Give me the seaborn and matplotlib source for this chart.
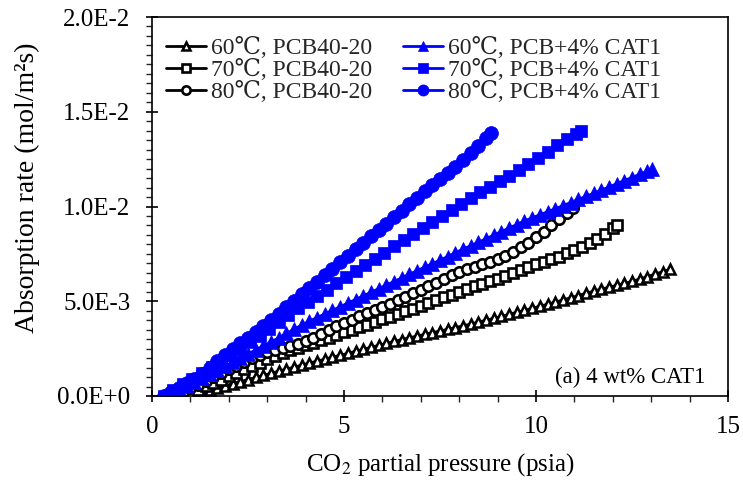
import matplotlib
matplotlib.use("Agg")
import numpy as np
import pandas as pd
import seaborn as sns
import matplotlib.pyplot as plt
from matplotlib.ticker import FixedLocator, MultipleLocator

# ---------------- data (y in 1E-3 mol/m2s) ----------------
x_b60 = [0.9, 1.1, 1.3, 1.5, 1.7, 1.9, 2.1, 2.3, 2.5, 2.7, 2.9, 3.1, 3.3, 3.5, 3.7, 3.9,
         4.1, 4.3, 4.5, 4.7, 4.9, 5.1, 5.3, 5.5, 5.7, 5.9, 6.1, 6.3, 6.5, 6.7, 6.9, 7.1,
         7.3, 7.5, 7.7, 7.9, 8.1, 8.3, 8.5, 8.7, 8.9, 9.1, 9.3, 9.5, 9.7, 9.9, 10.1, 10.3,
         10.5, 10.7, 10.9, 11.1, 11.3, 11.5, 11.7, 11.9, 12.1, 12.3, 12.5, 12.7, 12.9, 13.1,
         13.3, 13.5]
y_b60 = [0.00, 0.08, 0.18, 0.30, 0.42, 0.54, 0.65, 0.76, 0.87, 0.98, 1.09, 1.20, 1.31, 1.42,
         1.52, 1.63, 1.74, 1.84, 1.94, 2.05, 2.15, 2.25, 2.36, 2.46, 2.57, 2.67, 2.78, 2.88,
         2.98, 3.07, 3.16, 3.25, 3.34, 3.43, 3.52, 3.61, 3.70, 3.80, 3.90, 4.00, 4.10, 4.20,
         4.31, 4.42, 4.52, 4.63, 4.74, 4.84, 4.95, 5.07, 5.18, 5.30, 5.42, 5.53, 5.64, 5.74,
         5.84, 5.94, 6.05, 6.17, 6.30, 6.43, 6.56, 6.69]

x_b70 = [0.8, 1.0, 1.2, 1.4, 1.6, 1.8, 2.0, 2.2, 2.4, 2.6, 2.8, 3.0, 3.2, 3.4, 3.6, 3.8,
         4.0, 4.2, 4.4, 4.6, 4.8, 5.0, 5.2, 5.4, 5.6, 5.8, 6.0, 6.2, 6.4, 6.6, 6.8, 7.0,
         7.2, 7.4, 7.6, 7.8, 8.0, 8.2, 8.4, 8.6, 8.8, 9.0, 9.2, 9.4, 9.6, 9.8, 10.0, 10.2,
         10.4, 10.6, 10.8, 11.0, 11.2, 11.4, 11.6, 11.8, 12.0, 12.1]
y_b70 = [0.00, 0.17, 0.34, 0.51, 0.69, 0.87, 1.05, 1.23, 1.41, 1.59, 1.76, 1.93, 2.10, 2.27,
         2.42, 2.55, 2.68, 2.82, 2.95, 3.08, 3.22, 3.36, 3.50, 3.64, 3.77, 3.91, 4.05, 4.19,
         4.33, 4.47, 4.61, 4.75, 4.90, 5.05, 5.20, 5.35, 5.50, 5.64, 5.78, 5.92, 6.06, 6.20,
         6.35, 6.51, 6.67, 6.83, 6.96, 7.09, 7.22, 7.35, 7.52, 7.70, 7.88, 8.06, 8.28, 8.55,
         8.85, 9.02]

x_b80 = [0.6, 0.8, 1.0, 1.2, 1.4, 1.6, 1.8, 2.0, 2.2, 2.4, 2.6, 2.8, 3.0, 3.2, 3.4, 3.6,
         3.8, 4.0, 4.2, 4.4, 4.6, 4.8, 5.0, 5.2, 5.4, 5.6, 5.8, 6.0, 6.2, 6.4, 6.6, 6.8,
         7.0, 7.2, 7.4, 7.6, 7.8, 8.0, 8.2, 8.4, 8.6, 8.8, 9.0, 9.2, 9.4, 9.6, 9.8, 10.0,
         10.2, 10.4, 10.6, 10.8, 10.96]
y_b80 = [0.05, 0.22, 0.40, 0.60, 0.80, 1.00, 1.20, 1.40, 1.60, 1.80, 1.98, 2.14, 2.30, 2.43,
         2.55, 2.66, 2.77, 2.90, 3.06, 3.28, 3.50, 3.68, 3.86, 4.03, 4.20, 4.37, 4.53, 4.70,
         4.88, 5.06, 5.24, 5.42, 5.60, 5.79, 5.98, 6.17, 6.36, 6.55, 6.68, 6.81, 6.95, 7.09,
         7.22, 7.40, 7.60, 7.85, 8.10, 8.38, 8.66, 9.00, 9.33, 9.68, 9.94]

x_c60 = [0.3, 0.5, 0.7, 0.9, 1.1, 1.3, 1.5, 1.7, 1.9, 2.1, 2.3, 2.5, 2.7, 2.9, 3.1, 3.3,
         3.5, 3.7, 3.9, 4.1, 4.3, 4.5, 4.7, 4.9, 5.1, 5.3, 5.5, 5.7, 5.9, 6.1, 6.3, 6.5,
         6.7, 6.9, 7.1, 7.3, 7.5, 7.7, 7.9, 8.1, 8.3, 8.5, 8.7, 8.9, 9.1, 9.3, 9.5, 9.7,
         9.9, 10.1, 10.3, 10.5, 10.7, 10.9, 11.1, 11.3, 11.5, 11.7, 11.9, 12.1, 12.3, 12.5,
         12.7, 12.9, 13.02]
y_c60 = [0.00, 0.18, 0.36, 0.55, 0.75, 0.96, 1.17, 1.38, 1.59, 1.80, 2.01, 2.22, 2.43, 2.64,
         2.85, 3.07, 3.30, 3.52, 3.75, 3.95, 4.14, 4.33, 4.52, 4.71, 4.90, 5.09, 5.28, 5.47,
         5.66, 5.85, 6.04, 6.23, 6.42, 6.61, 6.80, 6.98, 7.17, 7.36, 7.56, 7.75, 7.93, 8.11,
         8.30, 8.49, 8.68, 8.86, 9.05, 9.24, 9.40, 9.56, 9.72, 9.88, 10.04, 10.21, 10.37,
         10.53, 10.70, 10.86, 11.03, 11.20, 11.37, 11.53, 11.70, 11.86, 11.96]

x_c70 = [0.30, 0.55, 0.80, 1.05, 1.30, 1.55, 1.80, 2.05, 2.30, 2.55, 2.80, 3.05, 3.30, 3.55,
         3.80, 4.05, 4.30, 4.55, 4.80, 5.05, 5.30, 5.55, 5.80, 6.05, 6.30, 6.55, 6.80, 7.05,
         7.30, 7.55, 7.80, 8.05, 8.30, 8.55, 8.80, 9.05, 9.30, 9.55, 9.80, 10.05, 10.30,
         10.55, 10.80, 11.05, 11.17]
y_c70 = [0.00, 0.30, 0.61, 0.91, 1.22, 1.53, 1.85, 2.17, 2.50, 2.83, 3.17, 3.52, 3.88, 4.25,
         4.62, 4.98, 5.30, 5.62, 5.95, 6.27, 6.59, 6.92, 7.24, 7.56, 7.89, 8.21, 8.54, 8.86,
         9.18, 9.50, 9.82, 10.14, 10.44, 10.74, 11.03, 11.32, 11.62, 11.93, 12.24, 12.57,
         12.90, 13.24, 13.55, 13.84, 13.98]

x_c80 = [0.3, 0.5, 0.7, 0.9, 1.1, 1.3, 1.5, 1.7, 1.9, 2.1, 2.3, 2.5, 2.7, 2.9, 3.1, 3.3,
         3.5, 3.7, 3.9, 4.1, 4.3, 4.5, 4.7, 4.9, 5.1, 5.3, 5.5, 5.7, 5.9, 6.1, 6.3, 6.5,
         6.7, 6.9, 7.1, 7.3, 7.5, 7.7, 7.9, 8.1, 8.3, 8.5, 8.7, 8.82]
y_c80 = [0.00, 0.20, 0.42, 0.66, 0.90, 1.17, 1.50, 1.84, 2.18, 2.50, 2.78, 3.06, 3.38, 3.70,
         4.02, 4.35, 4.68, 5.02, 5.36, 5.70, 6.04, 6.38, 6.72, 7.06, 7.40, 7.74, 8.08, 8.42,
         8.76, 9.10, 9.44, 9.78, 10.12, 10.46, 10.80, 11.12, 11.44, 11.76, 12.10, 12.44,
         12.82, 13.20, 13.60, 13.90]

labels = ["60\u2103, PCB40-20", "70\u2103, PCB40-20", "80\u2103, PCB40-20",
          "60\u2103, PCB+4% CAT1", "70\u2103, PCB+4% CAT1", "80\u2103, PCB+4% CAT1"]
y_ticks = [0.0, 0.005, 0.010, 0.015, 0.020]
y_ticklabels = ["0.0E+0", "5.0E-3", "1.0E-2", "1.5E-2", "2.0E-2"]
x_ticks = [0, 5, 10, 15]

# ---------------- style ----------------
sns.set_theme(style="white")
plt.rcParams["font.family"] = ["Liberation Serif", "DejaVu Serif"]
plt.rcParams["mathtext.fontset"] = "stix"

fig = plt.figure(figsize=(7.43, 4.84), dpi=100)
ax = fig.add_axes([152 / 743, 1 - 396 / 484, 576 / 743, 379 / 484])

BLUE = "#0000ff"
series = [
    (x_b60, y_b60, labels[0], "black", "^", 6.5, "white", 1.8),
    (x_b70, y_b70, labels[1], "black", "s", 7.0, "white", 1.9),
    (x_b80, y_b80, labels[2], "black", "o", 7.5, "white", 1.9),
    (x_c60, y_c60, labels[3], BLUE, "^", 9.5, BLUE, 0.5),
    (x_c70, y_c70, labels[4], BLUE, "s", 9.0, BLUE, 0.5),
    (x_c80, y_c80, labels[5], BLUE, "o", 10.0, BLUE, 0.5),
]
for xs, ys, lab, col, mk, ms, mfc, mew in series:
    df = pd.DataFrame({"x": xs, "y": np.array(ys) * 1e-3})
    sns.lineplot(data=df, x="x", y="y", ax=ax, color=col, marker=mk, markersize=ms,
                 markerfacecolor=mfc, markeredgecolor=col, markeredgewidth=mew,
                 linewidth=2.0, label=lab, sort=False, estimator=None)

ax.set_xlim(0, 15)
ax.set_ylim(0, 0.02)
ax.xaxis.set_major_locator(FixedLocator(x_ticks))
ax.xaxis.set_minor_locator(MultipleLocator(1))
ax.yaxis.set_major_locator(FixedLocator(y_ticks))
ax.set_yticklabels(y_ticklabels)
ax.yaxis.set_minor_locator(MultipleLocator(0.0005))
ax.tick_params(which="major", direction="inout", length=9, width=1.2, labelsize=18,
               colors="black", bottom=True, left=True)
ax.tick_params(axis="y", which="major", pad=11)
ax.tick_params(axis="x", which="major", pad=10)
ax.tick_params(which="minor", direction="out", length=4, width=1.0, bottom=True, left=True)
for sp in ax.spines.values():
    sp.set_color("black")
    sp.set_linewidth(1.2)

ax.set_xlabel("CO$_2$ partial pressure (psia)", fontsize=18, color="black")
ax.set_ylabel("Absorption rate (mol/m\u00b2s)", fontsize=20, color="black")
ax.xaxis.set_label_coords(0.5, -0.145)
ax.yaxis.set_label_coords(-0.195, 0.55)

leg = ax.legend(loc="upper left", bbox_to_anchor=(0.0, 0.985), ncol=2, frameon=False,
                fontsize=17, numpoints=1, handlelength=1.7, handletextpad=0.2,
                columnspacing=1.3, labelspacing=0.0, borderaxespad=0.2)
for h in leg.legend_handles:
    h.set_markersize(h.get_markersize() * 0.8)

ax.text(0.96, 0.035, "(a) 4 wt% CAT1", transform=ax.transAxes, ha="right", va="baseline",
        fontsize=16.5, color="black")

fig.savefig("out.png", dpi=100)
